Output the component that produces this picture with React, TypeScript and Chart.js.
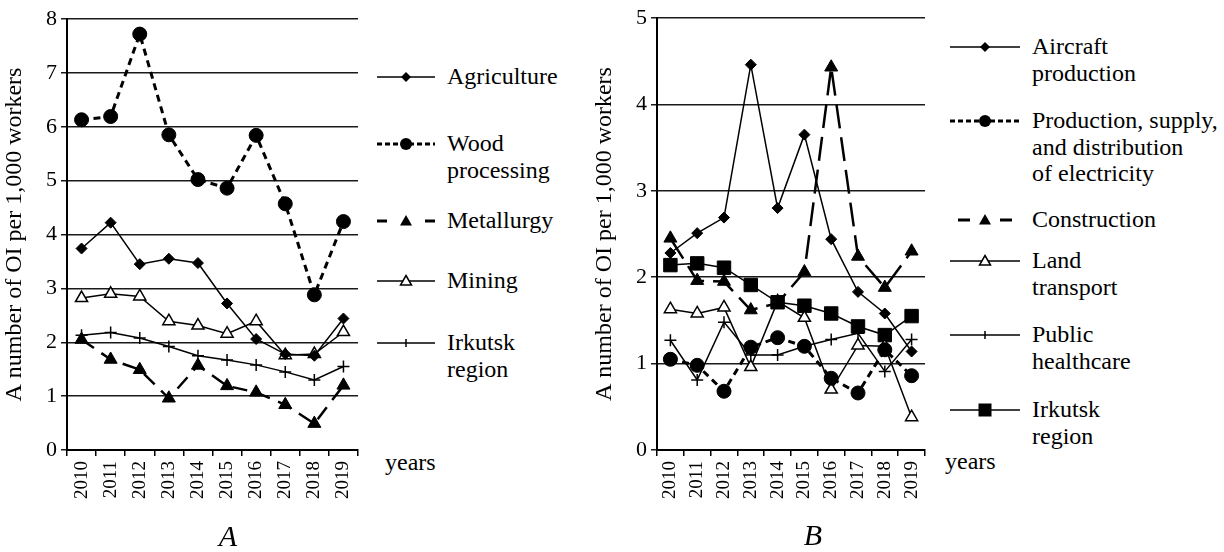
import React, { useEffect, useRef } from "react";
import { Chart, registerables } from "chart.js";

Chart.register(...registerables);

const SERIF = "'Liberation Serif', 'Times New Roman', Times, serif";
Chart.defaults.font.family = SERIF;
Chart.defaults.color = "#000";

// ---------- data ----------
const years = ["2010", "2011", "2012", "2013", "2014", "2015", "2016", "2017", "2018", "2019"];
const yTicksA = [0, 1, 2, 3, 4, 5, 6, 7, 8];
const yTicksB = [0, 1, 2, 3, 4, 5];

// Panel A
const agriculture = [3.74, 4.22, 3.45, 3.55, 3.47, 2.72, 2.06, 1.78, 1.75, 2.44];
const woodProcessing = [6.13, 6.19, 7.72, 5.85, 5.02, 4.86, 5.84, 4.57, 2.88, 4.24];
const metallurgy = [2.05, 1.68, 1.49, 0.96, 1.57, 1.19, 1.07, 0.84, 0.49, 1.2];
const mining = [2.82, 2.9, 2.85, 2.39, 2.31, 2.16, 2.39, 1.76, 1.78, 2.19];
const irkutskA = [2.13, 2.18, 2.08, 1.92, 1.75, 1.67, 1.58, 1.45, 1.3, 1.55];

// Panel B
const aircraft = [2.28, 2.51, 2.69, 4.46, 2.8, 3.65, 2.44, 1.83, 1.58, 1.14];
const electricity = [1.05, 0.98, 0.68, 1.19, 1.3, 1.2, 0.83, 0.66, 1.16, 0.86];
const construction = [2.45, 1.96, 1.95, 1.62, 1.7, 2.06, 4.43, 2.24, 1.88, 2.3];
const landTransport = [1.63, 1.58, 1.65, 0.96, 1.72, 1.53, 0.7, 1.21, 1.2, 0.38];
const publicHealthcare = [1.27, 0.81, 1.48, 1.1, 1.1, 1.2, 1.28, 1.35, 0.91, 1.28];
const irkutskB = [2.14, 2.16, 2.11, 1.91, 1.71, 1.67, 1.58, 1.43, 1.33, 1.55];

const yTitle = "A number of OI per 1,000 workers";

// ---------- styles ----------
type Marker = "diamond" | "circle" | "triangle" | "triangleOpen" | "cross" | "square";
type SeriesDef = {
  label: string[];
  data: number[];
  marker: Marker;
  dash: number[];
  width: number;
  legendDash: "solid" | "short" | "twoDash";
};

const seriesA: SeriesDef[] = [
  { label: ["Agriculture"], data: agriculture, marker: "diamond", dash: [], width: 1.5, legendDash: "solid" },
  { label: ["Wood", "processing"], data: woodProcessing, marker: "circle", dash: [7, 5], width: 3, legendDash: "short" },
  { label: ["Metallurgy"], data: metallurgy, marker: "triangle", dash: [15, 9], width: 2.5, legendDash: "twoDash" },
  { label: ["Mining"], data: mining, marker: "triangleOpen", dash: [], width: 1.5, legendDash: "solid" },
  { label: ["Irkutsk", "region"], data: irkutskA, marker: "cross", dash: [], width: 1.5, legendDash: "solid" },
];

const seriesB: SeriesDef[] = [
  { label: ["Aircraft", "production"], data: aircraft, marker: "diamond", dash: [], width: 1.5, legendDash: "solid" },
  { label: ["Production, supply,", "and distribution", "of electricity"], data: electricity, marker: "circle", dash: [7, 5], width: 3, legendDash: "short" },
  { label: ["Construction"], data: construction, marker: "triangle", dash: [24, 9], width: 2.5, legendDash: "twoDash" },
  { label: ["Land", "transport"], data: landTransport, marker: "triangleOpen", dash: [], width: 1.5, legendDash: "solid" },
  { label: ["Public", "healthcare"], data: publicHealthcare, marker: "cross", dash: [], width: 1.5, legendDash: "solid" },
  { label: ["Irkutsk", "region"], data: irkutskB, marker: "square", dash: [], width: 1.5, legendDash: "solid" },
];

const legendLineYA = [77, 144, 221, 281, 343];
const legendLineYB = [47, 121, 220, 261, 335, 410];

function markerProps(m: Marker) {
  switch (m) {
    case "diamond":
      return { pointStyle: "rectRot", pointRadius: 5.5, pointBackgroundColor: "#000", pointBorderWidth: 1 };
    case "circle":
      return { pointStyle: "circle", pointRadius: 7, pointBackgroundColor: "#000", pointBorderWidth: 1 };
    case "triangle":
      return { pointStyle: "triangle", pointRadius: 7.5, pointBackgroundColor: "#000", pointBorderWidth: 1 };
    case "triangleOpen":
      return { pointStyle: "triangle", pointRadius: 7, pointBackgroundColor: "#fff", pointBorderWidth: 1.5 };
    case "cross":
      return { pointStyle: "cross", pointRadius: 6, pointBackgroundColor: "#000", pointBorderWidth: 1.5 };
    case "square":
      return { pointStyle: "rect", pointRadius: 9.5, pointBackgroundColor: "#000", pointBorderWidth: 1 };
  }
}

type ChartProps = {
  series: SeriesDef[];
  yTicks: number[];
  left: number;
  width: number;
  height: number;
  padTop: number;
  padRight: number;
  yWidth: number;
  xHeight: number;
};

function LineChart(p: ChartProps) {
  const ref = useRef<HTMLCanvasElement | null>(null);
  useEffect(() => {
    if (!ref.current) return;
    const chart = new Chart(ref.current, {
      type: "line",
      data: {
        labels: years,
        datasets: p.series.map((s) => ({
          label: s.label.join(" "),
          data: s.data,
          borderColor: "#000",
          borderWidth: s.width,
          borderDash: s.dash,
          tension: 0,
          fill: false,
          pointBorderColor: "#000",
          pointHoverRadius: 0,
          clip: false as any,
          ...markerProps(s.marker),
        })) as any,
      },
      options: {
        responsive: false,
        maintainAspectRatio: false,
        animation: false,
        events: [],
        layout: { padding: { top: p.padTop, right: p.padRight, left: 0, bottom: 0 } },
        plugins: { legend: { display: false }, tooltip: { enabled: false } },
        scales: {
          x: {
            type: "category",
            offset: true,
            grid: {
              display: true,
              offset: true,
              drawOnChartArea: false,
              drawTicks: true,
              tickLength: 6,
              color: "#000",
              lineWidth: 1.5,
            },
            border: { display: true, color: "#000", width: 2 },
            ticks: {
              autoSkip: false,
              minRotation: 90,
              maxRotation: 90,
              padding: 5,
              color: "#000",
              font: { size: 19 },
            },
            afterFit: (s: any) => {
              s.height = p.xHeight;
            },
          },
          y: {
            min: p.yTicks[0],
            max: p.yTicks[p.yTicks.length - 1],
            afterBuildTicks: (s: any) => {
              s.ticks = p.yTicks.map((v) => ({ value: v }));
            },
            ticks: { stepSize: 1, padding: 4, color: "#000", font: { size: 22 } },
            grid: { color: "#1a1a1a", lineWidth: 1.5, tickLength: 6, drawTicks: true },
            border: { display: true, color: "#000", width: 2 },
            title: {
              display: true,
              text: yTitle,
              color: "#000",
              font: { size: 24 },
              padding: { top: 0, bottom: 0 },
            },
            afterFit: (s: any) => {
              s.width = p.yWidth;
            },
          },
        },
      } as any,
    });
    return () => chart.destroy();
  }, []);
  return (
    <canvas
      ref={ref}
      width={p.width}
      height={p.height}
      style={{ position: "absolute", left: p.left, top: 0, width: p.width, height: p.height }}
    />
  );
}

function MarkerSvg({ m, cx, cy }: { m: Marker; cx: number; cy: number }) {
  switch (m) {
    case "diamond":
      return <path d={`M${cx} ${cy - 5} L${cx + 5} ${cy} L${cx} ${cy + 5} L${cx - 5} ${cy} Z`} fill="#000" />;
    case "circle":
      return <circle cx={cx} cy={cy} r={6} fill="#000" />;
    case "triangle":
      return <path d={`M${cx} ${cy - 6} L${cx + 6} ${cy + 4.5} L${cx - 6} ${cy + 4.5} Z`} fill="#000" />;
    case "triangleOpen":
      return (
        <path d={`M${cx} ${cy - 5.5} L${cx + 5.5} ${cy + 4} L${cx - 5.5} ${cy + 4} Z`} fill="#fff" stroke="#000" strokeWidth={1.5} />
      );
    case "cross":
      return <line x1={cx} y1={cy - 4} x2={cx} y2={cy + 4} stroke="#000" strokeWidth={1.5} />;
    case "square":
      return <rect x={cx - 6.5} y={cy - 6.5} width={13} height={13} fill="#000" />;
  }
}

function Legend({ series, lineYs, x0, x1, textX }: { series: SeriesDef[]; lineYs: number[]; x0: number; x1: number; textX: number }) {
  const w = x1 - x0;
  return (
    <>
      {series.map((s, i) => {
        const y = lineYs[i];
        const cx = w / 2;
        let line: React.ReactNode;
        if (s.legendDash === "solid") {
          line = <line x1={0} y1={10} x2={w} y2={10} stroke="#000" strokeWidth={1.5} />;
        } else if (s.legendDash === "short") {
          line = <line x1={0} y1={10} x2={w} y2={10} stroke="#000" strokeWidth={3} strokeDasharray="5 3" />;
        } else {
          const seg = Math.round(w * 0.2);
          const inset = w > 60 ? 8 : 0;
          line = (
            <>
              <line x1={inset} y1={10} x2={inset + seg - 2} y2={10} stroke="#000" strokeWidth={3} />
              <line x1={w - inset - seg + 2} y1={10} x2={w - inset} y2={10} stroke="#000" strokeWidth={3} />
            </>
          );
        }
        return (
          <React.Fragment key={i}>
            <svg
              width={w}
              height={20}
              style={{ position: "absolute", left: x0, top: y - 10, overflow: "visible" }}
            >
              {line}
              <MarkerSvg m={s.marker} cx={cx} cy={10} />
            </svg>
            <div
              style={{
                position: "absolute",
                left: textX,
                top: y - 14,
                fontSize: 24,
                lineHeight: "26.5px",
                whiteSpace: "nowrap",
              }}
            >
              {s.label.map((t, j) => (
                <div key={j}>{t}</div>
              ))}
            </div>
          </React.Fragment>
        );
      })}
    </>
  );
}

export default function App() {
  return (
    <div
      style={{
        position: "absolute",
        left: 0,
        top: 0,
        width: 1224,
        height: 552,
        background: "#fff",
        overflow: "hidden",
        fontFamily: SERIF,
        color: "#000",
      }}
    >
      <LineChart series={seriesA} yTicks={yTicksA} left={0} width={372} height={520} padTop={19} padRight={14} yWidth={67} xHeight={70} />
      <LineChart series={seriesB} yTicks={yTicksB} left={590} width={350} height={520} padTop={18} padRight={12} yWidth={67} xHeight={70} />

      <Legend series={seriesA} lineYs={legendLineYA} x0={377} x1={435} textX={447} />
      <Legend series={seriesB} lineYs={legendLineYB} x0={950} x1={1020} textX={1032} />

      <div style={{ position: "absolute", left: 385, top: 449, fontSize: 24, lineHeight: "26px" }}>years</div>
      <div style={{ position: "absolute", left: 945, top: 448, fontSize: 24, lineHeight: "26px" }}>years</div>

      <div style={{ position: "absolute", left: 178, width: 100, top: 521, textAlign: "center", fontSize: 30, lineHeight: 1, fontStyle: "italic" }}>A</div>
      <div style={{ position: "absolute", left: 763, width: 100, top: 520, textAlign: "center", fontSize: 30, lineHeight: 1, fontStyle: "italic" }}>B</div>
    </div>
  );
}
